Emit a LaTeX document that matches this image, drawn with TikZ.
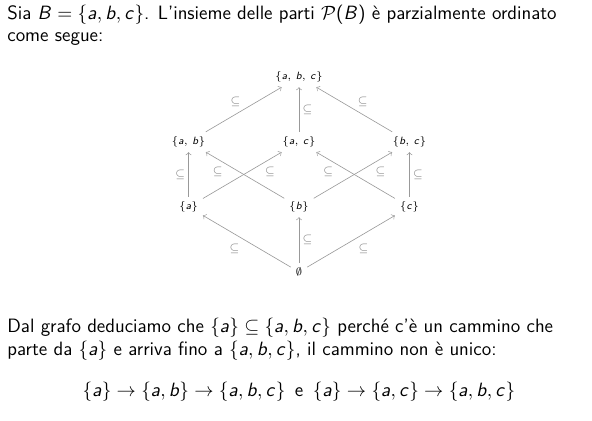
\documentclass[tikz,border=0pt]{standalone}
\renewcommand{\familydefault}{\sfdefault}
\DeclareSymbolFont{sfslanted}{OT1}{cmss}{m}{sl}
\SetSymbolFont{operators}{normal}{OT1}{cmss}{m}{n}
\DeclareMathSymbol{a}{\mathalpha}{sfslanted}{`a}
\DeclareMathSymbol{b}{\mathalpha}{sfslanted}{`b}
\DeclareMathSymbol{c}{\mathalpha}{sfslanted}{`c}
\DeclareMathSymbol{B}{\mathalpha}{sfslanted}{`B}

\begin{document}
\begin{tikzpicture}[x=0.02cm, y=0.02cm, node distance=1.3cm,
  slide text/.style={anchor=base west, inner sep=0pt, font=\fontsize{11}{13.6}\selectfont},
  set node/.style={font=\fontsize{6.3}{8}\selectfont, inner sep=2.6pt},
  sub/.style={font=\fontsize{6.5}{8}\selectfont, text=black!50, inner sep=1pt},
  incl/.style={->, >=to, draw=black!40, line width=0.35pt}]

	\useasboundingbox (0,0) rectangle (592,-421);

	% testo sopra
	\node[slide text] (intro1) at (7,-19.5) {Sia $B=\{a,b,c\}$. L'insieme delle parti $\mathcal{P}(B)$ è parzialmente ordinato};
	\node[slide text] (intro2) at (7,-41.5) {come segue:};

	% diagramma di Hasse
	\node[set node] (1) at (299,-77) {$\{a,\,b,\,c\}$};
	\node[set node] (3) [below of=1] {$\{a,\,c\}$};
	\node[set node] (2) [left of=3, node distance=2.21cm] {$\{a,\,b\}$};
	\node[set node] (4) [right of=3, node distance=2.21cm] {$\{b,\,c\}$};

	\node[set node] (6) [below of=3] {$\{b\}$};
	\node[set node] (5) [below of=2] {$\{a\}$};
	\node[set node] (7) [below of=4] {$\{c\}$};

	\node[set node] (8) [below of=6, node distance=1.3cm] {$\emptyset$};

	\draw[incl] (2) -- node[sub, pos=0.39, above=3.5pt] {$\subseteq$} (1);
	\draw[incl] (3) -- node[sub, midway, right=0.7pt] {$\subseteq$} (1);
	\draw[incl] (4) -- node[sub, pos=0.39, above=3.5pt] {$\subseteq$} (1);

	\draw[incl] (5) -- node[sub, midway, left=0.7pt] {$\subseteq$} (2);
	\draw[incl] (6) -- node[sub, pos=0.85, below=3.5pt] {$\subseteq$} (2);
	\draw[incl] (5) -- node[sub, pos=0.85, below=3.5pt] {$\subseteq$} (3);
	\draw[incl] (7) -- node[sub, pos=0.85, below=3.5pt] {$\subseteq$} (3);
	\draw[incl] (6) -- node[sub, pos=0.85, below=3.5pt] {$\subseteq$} (4);
	\draw[incl] (7) -- node[sub, midway, right=0.7pt] {$\subseteq$} (4);

	\draw[incl] (8) -- node[sub, pos=0.64, below=4.5pt] {$\subseteq$} (5);
	\draw[incl] (8) -- node[sub, midway, right=0.7pt] {$\subseteq$} (6);
	\draw[incl] (8) -- node[sub, pos=0.64, below=4.5pt] {$\subseteq$} (7);

	% testo sotto
	\node[slide text] (concl1) at (7,-333) {Dal grafo deduciamo che $\{a\}\subseteq\{a,b,c\}$ perché c'è un cammino che};
	\node[slide text] (concl2) at (7,-356) {parte da $\{a\}$ e arriva fino a $\{a,b,c\}$, il cammino non è unico:};
	\node[slide text, anchor=base] (paths) at (299,-397) {$\{a\}\to\{a,b\}\to\{a,b,c\}$ \,e\, $\{a\}\to\{a,c\}\to\{a,b,c\}$};

\end{tikzpicture}
\end{document}
